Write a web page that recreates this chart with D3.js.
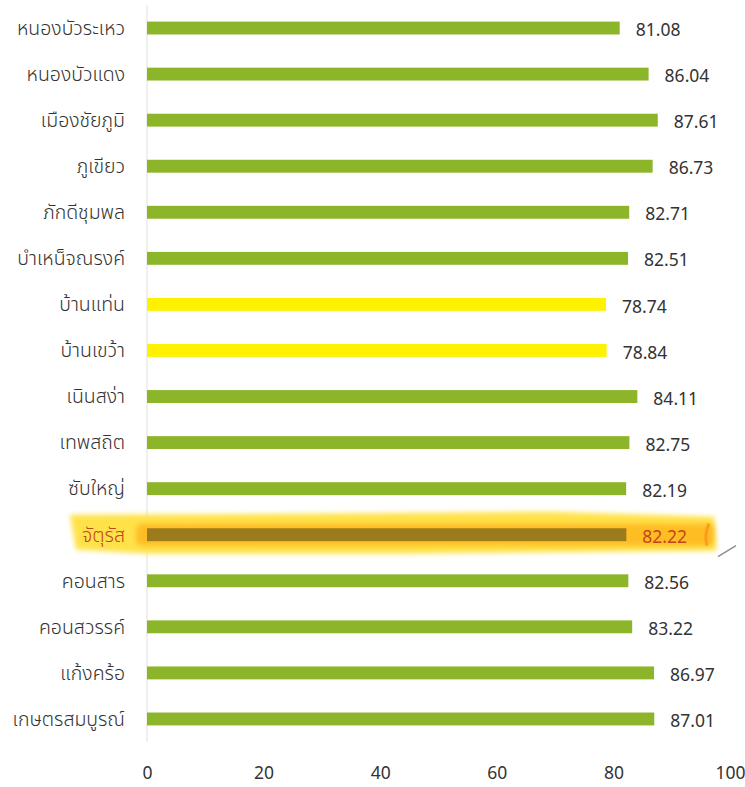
<!DOCTYPE html>
<html lang="th">
<head>
<meta charset="utf-8">
<title>bar chart</title>
<script src="https://cdn.jsdelivr.net/npm/d3@7"></script>
<style>
  body { margin: 0; background: #fff; }
  text { font-family: "Noto Sans Thai", "Tahoma", "Noto Sans", "DejaVu Sans", sans-serif; }
</style>
</head>
<body>
<script>
// ข้อมูล
var districts = ["หนองบัวระเหว", "หนองบัวแดง", "เมืองชัยภูมิ", "ภูเขียว", "ภักดีชุมพล",
  "บำเหน็จณรงค์", "บ้านแท่น", "บ้านเขว้า", "เนินสง่า", "เทพสถิต", "ซับใหญ่",
  "จัตุรัส", "คอนสาร", "คอนสวรรค์", "แก้งคร้อ", "เกษตรสมบูรณ์"];
var scores = [81.08, 86.04, 87.61, 86.73, 82.71, 82.51, 78.74, 78.84, 84.11,
  82.75, 82.19, 82.22, 82.56, 83.22, 86.97, 87.01];
var lowGroup = ["บ้านแท่น", "บ้านเขว้า"];
var highlighted = "จัตุรัส";
var xTicks = [0, 20, 40, 60, 80, 100];

var w = 745, h = 787;
var mLeft = 147, mRight = 730, mTop = 5, mBottom = 742;

var svg = d3.select("body").append("svg")
  .attr("width", w)
  .attr("height", h);

var defs = svg.append("defs");
defs.append("filter").attr("id", "soft")
  .attr("x", "-5%").attr("y", "-50%").attr("width", "110%").attr("height", "200%")
  .append("feGaussianBlur").attr("stdDeviation", 2.5);

var x = d3.scaleLinear().domain([0, 100]).range([mLeft, mRight]);
var y = d3.scaleBand().domain(districts).range([mTop, mBottom]).paddingInner(0.72).paddingOuter(0.36);

// faint axis line
svg.append("line")
  .attr("x1", mLeft).attr("x2", mLeft)
  .attr("y1", mTop).attr("y2", mBottom)
  .attr("stroke", "#f0f0f0")
  .attr("stroke-width", 2);

// highlighter band
var hy = y(highlighted) + y.bandwidth() / 2;
var hEnd = x(scores[districts.indexOf(highlighted)]) + 88;
svg.append("path")
  .attr("d", "M70," + (hy - 20) + " L300," + (hy - 21) + " L550," + (hy - 23) + " L" + hEnd + "," + (hy - 18)
    + " L" + (hEnd + 2) + "," + (hy + 16) + " L400," + (hy + 19) + " L150," + (hy + 19) + " L76," + (hy + 15) + " Z")
  .attr("fill", "#ffe24a")
  .attr("filter", "url(#soft)");
svg.append("rect")
  .attr("x", 136).attr("y", hy - 11)
  .attr("width", hEnd - 136)
  .attr("height", 22)
  .attr("rx", 6)
  .attr("fill", "#ffb41e")
  .attr("opacity", 0.8)
  .attr("filter", "url(#soft)");

svg.selectAll("rect.bar")
  .data(districts)
  .enter()
  .append("rect")
  .attr("class", "bar")
  .attr("x", x(0))
  .attr("y", function(d) { return y(d); })
  .attr("width", function(d, i) { return x(scores[i]) - x(0); })
  .attr("height", y.bandwidth())
  .attr("fill", function(d) {
    if (d === highlighted) return "#9c7b1c";
    if (lowGroup.indexOf(d) >= 0) return "#fff200";
    return "#8cb529";
  });

// category labels
svg.selectAll("text.cat")
  .data(districts)
  .enter()
  .append("text")
  .attr("class", "cat")
  .attr("x", 125)
  .attr("y", function(d) { return y(d) + y.bandwidth() / 2; })
  .attr("dy", "0.35em")
  .attr("text-anchor", "end")
  .attr("font-size", 19.5)
  .attr("font-weight", 300)
  .attr("fill", function(d) { return d === highlighted ? "#c4451c" : "#333"; })
  .text(function(d) { return d; });

// value labels
svg.selectAll("text.val")
  .data(districts)
  .enter()
  .append("text")
  .attr("class", "val")
  .attr("x", function(d, i) { return x(scores[i]) + 16; })
  .attr("y", function(d) { return y(d) + y.bandwidth() / 2 + 2; })
  .attr("dy", "0.35em")
  .attr("font-size", 17.5)
  .attr("fill", function(d) { return d === highlighted ? "#c4451c" : "#333"; })
  .text(function(d, i) { return scores[i].toFixed(2); });

// small pen marks near the highlight
svg.append("path")
  .attr("d", "M709," + (hy - 11) + " Q704," + hy + " 707," + (hy + 11))
  .attr("stroke", "#ff9a1a").attr("stroke-width", 3).attr("fill", "none");
svg.append("line")
  .attr("x1", 718).attr("y1", hy + 22).attr("x2", 736).attr("y2", hy + 11)
  .attr("stroke", "#8a8f9a").attr("stroke-width", 1.5);

// x axis
var xAxis = d3.axisBottom(x).tickValues(xTicks).tickSize(0).tickPadding(0);
var gx = svg.append("g")
  .attr("transform", "translate(0,767)")
  .call(xAxis);
gx.select(".domain").remove();
gx.selectAll("text")
  .attr("font-size", 17.5)
  .attr("fill", "#333")
  .style("font-family", "\"Noto Sans\", \"DejaVu Sans\", sans-serif");
</script>
</body>
</html>
